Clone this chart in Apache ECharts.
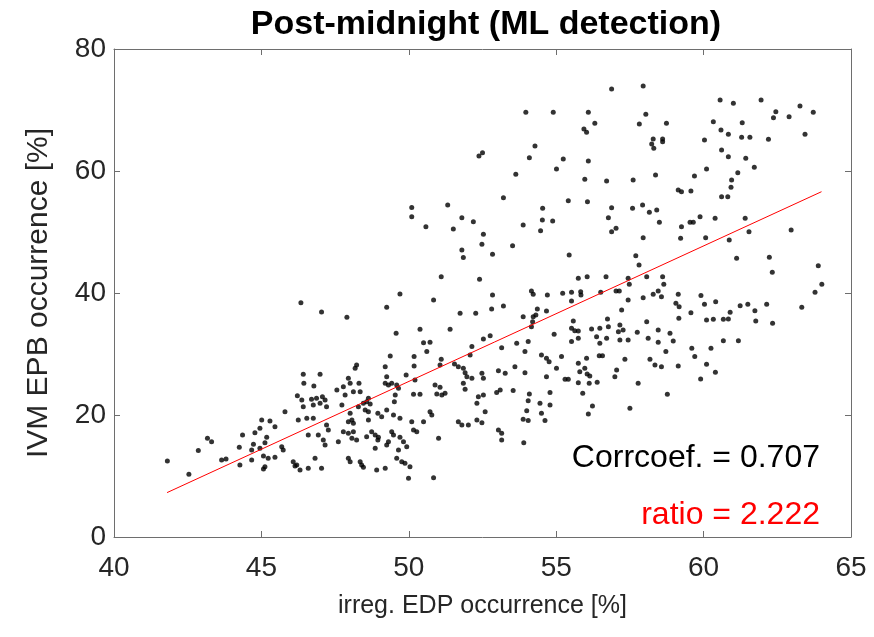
<!DOCTYPE html>
<html>
<head>
<meta charset="utf-8">
<script src="https://cdn.jsdelivr.net/npm/echarts@6/dist/echarts.min.js"></script>
<style>html,body{margin:0;padding:0;background:#fff}#c{width:874px;height:637px}</style>
</head>
<body>
<div id="c"></div>
<script>
const titleText = 'Post-midnight (ML detection)';
const xName = 'irreg. EDP occurrence [%]';
const yName = 'IVM EPB occurrence [%]';
const xTicks = [40, 45, 50, 55, 60, 65];
const yTicks = [0, 20, 40, 60, 80];
const corrText = 'Corrcoef. = 0.707';
const ratioText = 'ratio = 2.222';
const fitSlope = 2.222;
const fitIntercept = -85.6;
const fitRange = [41.8, 64.0];

// points with EDP occurrence below ~47.3 %
const pointsLeft = [
[46.34,38.4],[47.04,36.9],
[41.81,12.46],[42.54,10.28],[42.86,14.16],[43.17,16.18],[43.31,15.63],[43.65,12.63],[43.80,12.79],[44.25,14.7],
[44.27,11.81],[44.36,16.73],[44.67,14.27],[44.67,12.63],[44.73,15.2],[44.78,17.11],[44.95,17.82],[44.95,14.54],
[45.01,19.19],[45.07,13.28],[45.12,15.47],[45.12,11.53],[45.07,11.15],[45.18,16.34],[45.23,12.9],[45.29,19.02],
[45.46,18.09],[45.46,13.06],[45.69,14.81],[45.74,14.27],[45.8,20.55],[46.08,12.35],[46.14,11.64],[46.2,11.81],
[46.25,19.19],[46.31,10.99],[46.54,19.46],[46.59,16.73],[46.59,11.26],[46.76,19.46],[46.82,12.9],[46.93,16.73],
[47.04,11.26],[47.1,15.91],[47.16,15.09],[47.21,18.36],[47.27,17.54],[46.42,26.67],[46.99,26.67],[46.44,25.2],
[46.78,24.76],[46.22,23.17],[46.37,22.46],[46.7,22.57],[46.87,22.74],[47.07,23.01],[47.16,22.46],[46.76,21.64],
[46.99,21.92],[47.21,21.37],[46.42,21.37]
];

// points with EDP occurrence ~47.5 - 53.4 %
const pointsMidLeft = [
[52.38,62.46],[52.5,63.0],[53.21,55.63],[50.1,54.0],[51.32,54.43],
[50.1,52.52],[50.58,50.88],[51.8,52.35],[52.19,51.7],[51.51,50.5],[52.53,49.62],[52.48,47.98],[51.8,47.05],
[51.85,45.8],[52.84,46.34],[51.1,42.68],[52.4,42.24],[49.7,39.84],[50.84,38.86],[52.84,39.68],[49.25,37.65],
[47.9,36.01],[51.74,36.67],[52.27,36.67],[52.81,37.38],[53.21,37.87],[49.57,33.39],[50.38,34.05],[51.4,34.05],
[50.5,31.86],[50.72,31.92],[52.14,31.21],[52.53,32.46],[52.76,33.01],[53.15,31.04],
[49.37,29.68],[50.18,29.57],[50.18,28.04],[50.61,30.39],[51.10,29.13],[51.06,28.2],[51.55,28.36],[51.68,27.93],
[52.08,29.84],[48.23,28.2],[48.18,27.65],[49.2,27.93],[51.85,27.65],[51.91,26.94],[51.97,26.29],[52.14,26.02],
[52.48,26.83],[52.53,26.02],[53.04,27.27],[53.27,26.83],[49.91,26.56],[50.21,25.74],[47.95,26.02],[48.01,25.2],
[47.78,24.65],[47.56,24.1],[48.31,25.2],[48.35,23.83],[48.12,23.83],[49.25,26.29],[49.2,25.2],[49.31,24.92],
[49.42,25.2],[49.59,24.92],[49.65,24.38],[50.89,24.92],[51.06,24.54],[50.95,23.45],[51.12,23.28],[51.23,23.56],
[51.85,25.2],[51.91,24.21],[53.1,24.1],[52.98,23.67],[47.84,23.28],[48.63,22.74],[48.57,22.19],[48.46,21.92],
[48.69,21.81],[49.54,23.28],[49.51,22.19],[50.16,23.39],[50.38,23.39],[52.36,23.01],[52.53,23.28],[52.31,21.92],
[47.73,21.64],[48.29,21.37],[48.52,20.82],[48.63,20.55],[48.01,20.28],[48.07,19.18],[47.95,18.91],[48.12,18.64],
[48.63,19.18],[48.95,20.28],[49.08,19.73],[49.25,20.82],[49.48,20.0],[49.7,19.46],[50.1,18.91],[50.5,18.91],
[50.72,20.55],[50.78,20.0],[51.68,18.91],[51.8,18.36],[52.02,18.36],[52.31,19.18],[52.48,18.75],[52.59,20.55],
[47.78,17.27],[47.95,17.0],[48.12,17.27],[48.07,16.18],[48.23,15.91],[47.61,15.63],[48.57,16.45],[48.74,17.27],
[48.86,16.73],[48.97,16.34],[48.95,15.91],[49.42,17.27],[49.48,16.73],[49.31,15.63],[49.25,15.09],[49.7,16.34],
[49.82,15.63],[49.93,14.81],[50.16,17.55],[50.27,17.27],[51.01,16.18],[53.04,17.55],[53.15,17.0],[53.15,15.91],
[48.86,14.54],[49.65,14.27],[47.95,12.9],[48.01,12.35],[48.35,12.35],[48.4,11.81],[48.46,11.43],[48.91,10.99],
[49.2,11.26],[49.59,12.9],[49.76,12.35],[49.87,12.08],[50.04,11.53],[49.99,9.62],[50.84,9.73]
];

// points with EDP occurrence ~53.4 - 59.3 %
const pointsMidRight = [
[56.88,73.44],[57.95,73.94],[53.97,69.62],[54.9,69.62],[56.09,69.62],[58.04,69.29],[56.31,67.82],[57.82,67.71],
[58.74,67.82],[55.94,66.89],[56.03,66.34],[58.29,65.25],[58.61,65.25],[58.24,64.43],[58.31,63.72],[58.61,64.81],
[54.28,64.1],[54.09,62.19],[55.24,61.97],[56.09,61.64],[55.01,60.33],[53.63,59.46],[55.97,58.64],[56.71,58.36],
[57.61,58.53],[58.37,59.35],[59.14,56.89],[59.25,56.61],[55.41,55.14],[56.06,54.97],[54.54,53.88],[56.88,53.99],
[57.59,53.88],[57.93,54.43],[58.16,53.23],[58.41,53.61],
[53.88,51.15],[54.53,51.97],[54.88,51.81],[54.47,50.22],[56.77,52.35],[56.88,50.06],[57.03,50.6],[58.5,51.59],
[59.25,50.88],[53.52,47.76],[57.95,49.07],[59.22,48.96],[55.44,46.23],[57.7,46.12],[57.81,44.59],[55.75,42.41],
[56.05,42.68],[56.69,42.68],[57.44,42.41],[58.07,42.68],[57.48,41.42],[58.61,42.68],[58.65,41.42],[54.16,40.33],
[54.22,39.78],[54.7,39.68],[55.22,39.95],[55.52,40.11],[55.83,40.22],[55.84,39.68],[55.52,38.69],[56.51,40.11],
[57.03,40.33],[57.14,40.33],[57.44,38.86],[57.95,39.24],[58.29,39.78],[58.46,40.33],[58.57,39.4],[59.14,39.78],
[59.06,38.31],[59.17,37.76],[54.36,37.38],[54.67,37.05],[53.88,36.12],[54.22,36.12],[54.31,36.4],[54.2,35.3],
[54.16,34.48],[55.58,35.41],[56.74,35.74],[57.22,37.22],[58.07,35.3],[59.16,35.85],[54.93,33.23],[55.52,34.21],
[55.63,33.83],[55.75,33.77],[56.2,34.1],[56.48,34.21],[56.77,34.48],[57.16,34.76],[57.11,33.66],[57.27,33.94],
[57.75,33.56],[58.46,33.94],[58.86,33.39],[53.66,31.75],[54.05,32.03],[55.52,32.03],[55.75,32.57],[56.37,32.84],
[56.48,31.75],[56.71,32.57],[57.16,32.3],[57.44,32.3],[58.12,32.57],[58.46,31.92],[58.97,32.13],
[53.94,30.39],[54.5,29.84],[54.67,29.29],[54.76,28.75],[55.18,29.57],[56.03,29.29],[56.46,29.73],[56.57,29.73],
[57.33,29.13],[58.18,29.13],[58.35,28.2],[58.57,27.93],[58.72,30.39],[59.14,28.04],[53.6,27.93],[53.94,26.94],
[54.67,26.29],[55.01,27.65],[55.3,25.85],[55.41,25.85],[55.75,28.47],[55.8,27.11],[55.97,27.65],[56.05,26.73],
[56.14,26.4],[55.75,25.3],[56.12,25.2],[56.39,25.36],[57.05,27.38],[56.99,26.29],[57.78,25.2],[53.54,24.0],
[54.09,23.45],[54.05,22.35],[54.0,20.71],[54.45,21.92],[54.5,20.28],[54.79,23.67],[54.79,21.64],[54.62,19.08],
[53.88,19.29],[54.05,19.08],[55.9,23.56],[56.23,21.48],[56.09,20.17],[57.5,21.1],[58.77,23.39],[53.9,15.47]
];

// points with EDP occurrence above ~59.3 %
const pointsRight = [
[60.56,71.64],[61.01,71.09],[61.95,71.64],[63.27,70.66],[62.45,69.73],[62.37,68.75],[62.9,68.91],[63.72,69.62],
[60.33,68.09],[61.31,67.93],[60.59,66.72],[60.84,66.01],[60.03,65.08],[61.29,65.52],[61.57,65.52],[62.2,65.19],
[63.44,66.01],[60.61,63.44],[60.84,62.35],[61.43,62.08],[60.1,60.33],[61.72,60.6],[59.69,59.18],[61.16,59.73],
[60.95,58.53],[59.57,56.72],[60.93,57.32],[60.61,55.79],[60.82,55.79],
[59.88,52.52],[60.39,52.24],[61.41,52.24],[59.54,51.59],[59.65,51.59],[62.97,50.33],[61.54,50.06],[60.07,49.07],
[60.87,48.69],[61.12,45.69],[62.23,45.85],[62.33,43.39],[63.89,44.48],[64.01,41.42],[63.78,40.11],[59.91,39.57],
[60.03,38.14],[60.41,38.58],[61.24,37.93],[61.5,38.14],[62.14,38.14],[63.33,37.65],[59.57,36.78],[60.9,36.83],
[61.74,37.11],[60.1,35.58],[60.33,35.69],[60.67,35.69],[60.84,35.74],[61.77,35.41],[62.34,35.03],[60.67,32.19],
[61.18,32.19],[59.6,30.93],[60.25,30.93],[59.7,29.6],[60.1,28.3],[60.4,27.0],[59.9,25.9]
];

const allPoints = pointsLeft.concat(pointsMidLeft, pointsMidRight, pointsRight);
const fitLine = fitRange.map(x => [x, fitSlope * x + fitIntercept]);

const FONT = '"Liberation Sans", Arial, Helvetica, sans-serif';
const axisColor = '#6e6e6e';
const textColor = '#262626';
const GL = 114, GR = 23, GT = 49, GB = 100;

const chart = echarts.init(document.getElementById('c'), null, {renderer: 'canvas'});
const baseX = {
  type: 'value', min: xTicks[0], max: xTicks[xTicks.length - 1], interval: xTicks[1] - xTicks[0],
  axisLine: {show: true, onZero: false, lineStyle: {color: axisColor, width: 1}},
  axisTick: {show: true, inside: true, length: 6, lineStyle: {color: axisColor}},
  splitLine: {show: false}
};
const baseY = {
  type: 'value', min: yTicks[0], max: yTicks[yTicks.length - 1], interval: yTicks[1] - yTicks[0],
  axisLine: {show: true, onZero: false, lineStyle: {color: axisColor, width: 1}},
  axisTick: {show: true, inside: true, length: 6, lineStyle: {color: axisColor}},
  splitLine: {show: false}
};
chart.setOption({
  animation: false,
  backgroundColor: '#ffffff',
  grid: {left: GL, right: GR, top: GT, bottom: GB, containLabel: false},
  xAxis: [
    Object.assign({}, baseX, {
      position: 'bottom',
      name: xName, nameLocation: 'middle', nameGap: 57,
      nameTextStyle: {fontFamily: FONT, fontSize: 25, color: textColor},
      axisLabel: {show: true, margin: 17, fontFamily: FONT, fontSize: 28, color: textColor}
    }),
    Object.assign({}, baseX, {position: 'top', axisLabel: {show: false}})
  ],
  yAxis: [
    Object.assign({}, baseY, {
      position: 'left',
      name: yName, nameLocation: 'middle', nameGap: 60, nameRotate: 90,
      nameTextStyle: {fontFamily: FONT, fontSize: 30, color: textColor},
      axisLabel: {show: true, margin: 8, fontFamily: FONT, fontSize: 28, color: textColor}
    }),
    Object.assign({}, baseY, {position: 'right', axisLabel: {show: false}})
  ],
  series: [
    {
      type: 'scatter', xAxisIndex: 0, yAxisIndex: 0, data: allPoints,
      symbol: 'circle', symbolSize: 5, itemStyle: {color: '#000000'}, silent: true, z: 3
    },
    {
      type: 'line', xAxisIndex: 0, yAxisIndex: 0, data: fitLine,
      symbol: 'none', lineStyle: {color: '#ff0000', width: 1}, silent: true, z: 4
    }
  ],
  graphic: [
    {type: 'text', x: 486, y: 8, z: 10,
     style: {text: titleText, textAlign: 'center', textVerticalAlign: 'top', fontFamily: FONT, fontSize: 34, fontWeight: 'bold', fill: '#000'}},
    {type: 'text', x: 820, y: 458, z: 10,
     style: {text: corrText, textAlign: 'right', textVerticalAlign: 'middle', fontFamily: FONT, fontSize: 32, fill: '#000'}},
    {type: 'text', x: 820, y: 515, z: 10,
     style: {text: ratioText, textAlign: 'right', textVerticalAlign: 'middle', fontFamily: FONT, fontSize: 32, fill: '#ff0000'}}
  ]
});
</script>
</body>
</html>
